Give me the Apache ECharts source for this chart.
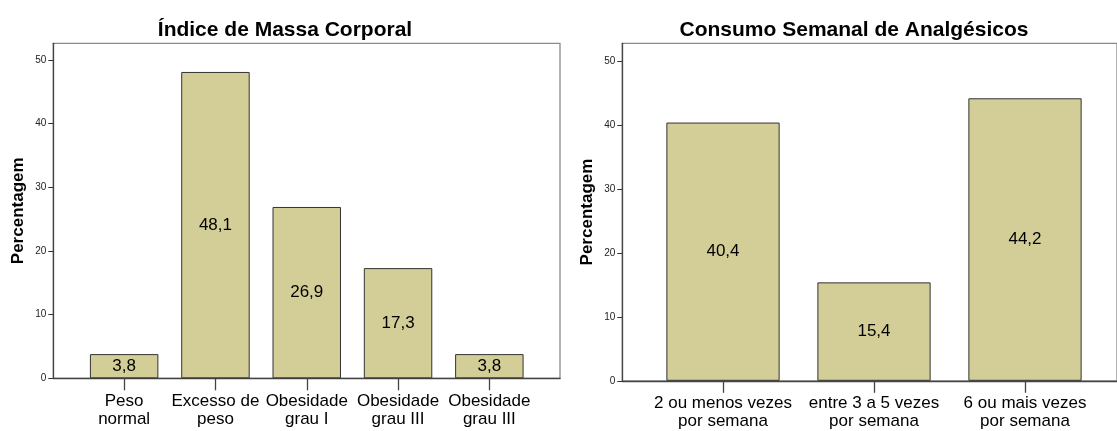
<!DOCTYPE html>
<html>
<head>
<meta charset="utf-8">
<title>IMC e Analgésicos</title>
<script src="https://cdn.jsdelivr.net/npm/echarts@6/dist/echarts.min.js"></script>
<style>
  html, body { margin: 0; padding: 0; background: #fff; }
  #chart { width: 1117px; height: 431px; }
</style>
</head>
<body>
<div id="chart"></div>
<script>
// dados
const imcCategorias = ['Peso\nnormal', 'Excesso de\npeso', 'Obesidade\ngrau I', 'Obesidade\ngrau III', 'Obesidade\ngrau III']
const imcValores = [3.8, 48.1, 26.9, 17.3, 3.8]

const consumoCategorias = ['2 ou menos vezes\npor semana', 'entre 3 a 5 vezes\npor semana', '6 ou mais vezes\npor semana']
const consumoValores = [40.4, 15.4, 44.2]

const yTicks = [0, 10, 20, 30, 40, 50]

const font = 'Liberation Sans, Arial, sans-serif'
const barColor = '#D3CE97'

function fmt(v) {
  return String(v).replace('.', ',')
}

// eixo "moldura" (linhas escuras esquerda/baixo)
function frameAxes(gridIndex) {
  const line = { show: true, onZero: false, lineStyle: { color: '#444', width: 1.3 } }
  return {
    x: { type: 'value', gridIndex: gridIndex, min: 0, max: 1, axisLine: line, axisTick: { show: false }, axisLabel: { show: false }, splitLine: { show: false } },
    y: { type: 'value', gridIndex: gridIndex, min: 0, max: 1, axisLine: line, axisTick: { show: false }, axisLabel: { show: false }, splitLine: { show: false } }
  }
}

function catAxis(gridIndex, data) {
  return {
    type: 'category',
    gridIndex: gridIndex,
    data: data,
    axisLine: { show: false },
    axisTick: { show: true, alignWithLabel: true, length: 12, lineStyle: { color: '#444', width: 1.3 } },
    axisLabel: { interval: 0, margin: 14, fontFamily: font, fontSize: 17, lineHeight: 18, color: '#000' },
    splitLine: { show: false }
  }
}

function valAxis(gridIndex, max, offset, gap) {
  return {
    type: 'value',
    gridIndex: gridIndex,
    min: 0,
    max: max,
    interval: 10,
    offset: offset,
    name: 'Percentagem',
    nameLocation: 'middle',
    nameGap: gap,
    nameTextStyle: { fontFamily: font, fontSize: 17, fontWeight: 'bold', color: '#000' },
    axisLine: { show: false },
    axisTick: { show: true, length: 5, customValues: yTicks, lineStyle: { color: '#333' } },
    axisLabel: { margin: 7, fontFamily: font, fontSize: 10, color: '#222', customValues: yTicks },
    splitLine: { show: false }
  }
}

function barSeries(xi, yi, data) {
  return {
    type: 'bar',
    xAxisIndex: xi,
    yAxisIndex: yi,
    data: data,
    barWidth: '75%',
    itemStyle: { color: barColor, borderColor: '#333', borderWidth: 1 },
    label: {
      show: true,
      position: 'inside',
      fontFamily: font,
      fontSize: 17,
      color: '#000',
      formatter: (p) => fmt(p.value)
    },
    emphasis: { disabled: true }
  }
}

const fL = frameAxes(0)
const fR = frameAxes(2)

const myChart = echarts.init(document.getElementById('chart'))
const option = {
  animation: false,
  title: [
    { text: 'Índice de Massa Corporal', left: 280, top: 15, textAlign: 'center', textStyle: { fontFamily: font, fontSize: 21, fontWeight: 'bold', color: '#000' } },
    { text: 'Consumo Semanal de Analgésicos', left: 849, top: 15, textAlign: 'center', textStyle: { fontFamily: font, fontSize: 21, fontWeight: 'bold', color: '#000' } }
  ],
  grid: [
    // moldura esquerda
    { left: 53.3, top: 43.3, width: 506.7, height: 335, show: true, borderColor: '#8a8a8a', borderWidth: 1.3 },
    // barras esquerda
    { left: 78.5, top: 43.3, width: 456.5, height: 335 },
    // moldura direita
    { left: 622.3, top: 43.3, width: 520, height: 337.5, show: true, borderColor: '#8a8a8a', borderWidth: 1.3 },
    // barras direita
    { left: 647.5, top: 43.3, width: 453, height: 337.5 }
  ],
  xAxis: [
    fL.x,
    catAxis(1, imcCategorias),
    fR.x,
    catAxis(3, consumoCategorias)
  ],
  yAxis: [
    fL.y,
    valAxis(1, 52.6, 25.2, 26),
    fR.y,
    valAxis(3, 52.8, 25.2, 26)
  ],
  series: [
    barSeries(1, 1, imcValores),
    barSeries(3, 3, consumoValores)
  ]
}
myChart.setOption(option)
</script>
</body>
</html>
